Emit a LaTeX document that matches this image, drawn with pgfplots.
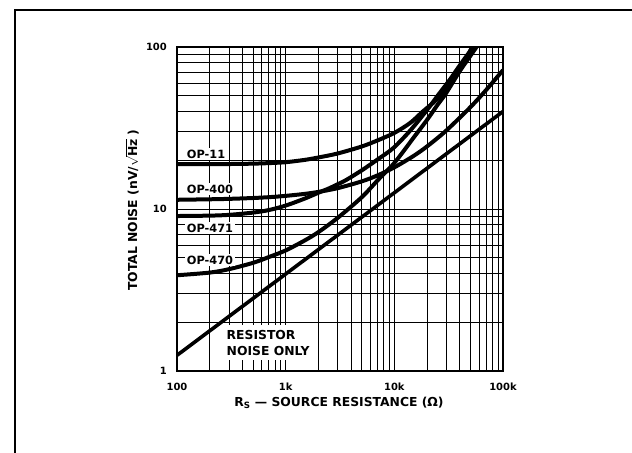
\documentclass[border=0pt]{standalone}
\usepackage{pgfplots}
\pgfplotsset{compat=1.18}
\usepackage{fontspec}
\setmainfont{DejaVu Sans}
\newcommand{\tickfont}{\fontsize{10}{12}\selectfont\bfseries}
\newcommand{\labfont}{\fontsize{11.4}{13}\selectfont\bfseries}
\newcommand{\axfont}{\fontsize{12.4}{14}\selectfont\bfseries}
\begin{document}
\begin{tikzpicture}
\useasboundingbox (0bp,0bp) rectangle (632bp,453bp);
\draw[line width=1.5bp] (15bp,443bp) -- (632bp,443bp);
\draw[line width=1.5bp] (15bp,443.75bp) -- (15bp,0bp);
\begin{axis}[
  at={(177bp,82bp)}, anchor=south west, scale only axis,
  width=326bp, height=324bp,
  xmode=log, ymode=log,
  xmin=100, xmax=100000, ymin=1, ymax=100,
  xtick={100,1000,10000,100000}, xticklabels={100,1k,10k,100k},
  ytick={1,10,100}, yticklabels={1,10,100},
  grid=both,
  major grid style={black, line width=0.8bp},
  minor grid style={black, line width=0.7bp},
  major tick length=0pt, minor tick length=0pt,
  tick style={draw=none},
  axis line style={line width=1.6bp},
  xticklabel style={anchor=base, inner sep=0pt, yshift=-19.7bp, font=\tickfont},
  yticklabel style={anchor=east, inner sep=0pt, xshift=-10bp, font=\tickfont},
  clip=true,
]
% OP-11
\addplot[black, line width=4bp, smooth] table {
100 18.9
200 18.9
300 18.95
500 19.05
700 19.2
1000 19.45
1500 20.1
2000 20.8
3000 22.0
5000 24.3
7000 26.5
10000 29.5
14000 34
18300 40
23000 45.5
28000 52
34000 61
40000 72
46000 85
52000 100
56000 108
};
% OP-400
\addplot[black, line width=4bp, smooth] table {
100 11.40
200 11.48
300 11.55
500 11.69
700 11.83
1000 12.05
1500 12.40
2000 12.75
3000 13.44
5000 14.80
7000 16.12
10000 18.07
15000 21.24
20000 24.35
30000 30.46
50000 42.46
70000 54.3
100000 72.0
};
% OP-471
\addplot[black, line width=4bp, smooth] table {
100 9.05
200 9.1
300 9.2
500 9.5
700 9.85
1000 10.5
1500 11.6
2000 12.6
2500 13.4
3000 14.2
3600 15.1
5000 17.3
7000 20.2
9800 23.8
14000 30.5
19800 40.5
25000 50
32500 63
40000 77
53000 100
56000 106
};
% OP-470
\addplot[black, line width=4bp, smooth] table {
100 3.9
200 4.05
300 4.25
500 4.65
700 5.05
1000 5.55
1500 6.4
2000 7.2
3000 8.8
5000 11.8
7000 15.0
9700 18.8
12000 22.5
15000 27.5
20000 35.5
25000 44
30000 52
40000 71
50000 88
57000 100
60000 105
};
% Resistor noise only
\addplot[black, line width=3.6bp] table {
100 1.25
100000 40
};
\node[anchor=west, fill=white, inner sep=1.7bp, font=\labfont] at (axis cs:118.5,21.76) {OP-11};
\node[anchor=west, fill=white, inner sep=1.7bp, font=\labfont] at (axis cs:118.5,13.2) {OP-400};
\node[anchor=west, fill=white, inner sep=1.7bp, font=\labfont] at (axis cs:118.5,7.63) {OP-471};
\node[anchor=west, fill=white, inner sep=1.7bp, font=\labfont] at (axis cs:118.5,4.84) {OP-470};
\node[anchor=base west, fill=white, inner xsep=2bp, inner ysep=5bp, font=\axfont] at (axis cs:273.5,1.569) {RESISTOR};
\node[anchor=base west, fill=white, inner xsep=2bp, inner ysep=4bp, font=\axfont] at (axis cs:273.5,1.238) {NOISE ONLY};
\end{axis}
\node[rotate=90, anchor=base, font=\axfont] at (137bp,243bp) {TOTAL NOISE (nV/$\sqrt{\mbox{Hz}}$ )};
\node[anchor=base, font=\axfont] at (339bp,46.3bp) {R\textsubscript{S} — SOURCE RESISTANCE (Ω)};
\end{tikzpicture}
\end{document}
